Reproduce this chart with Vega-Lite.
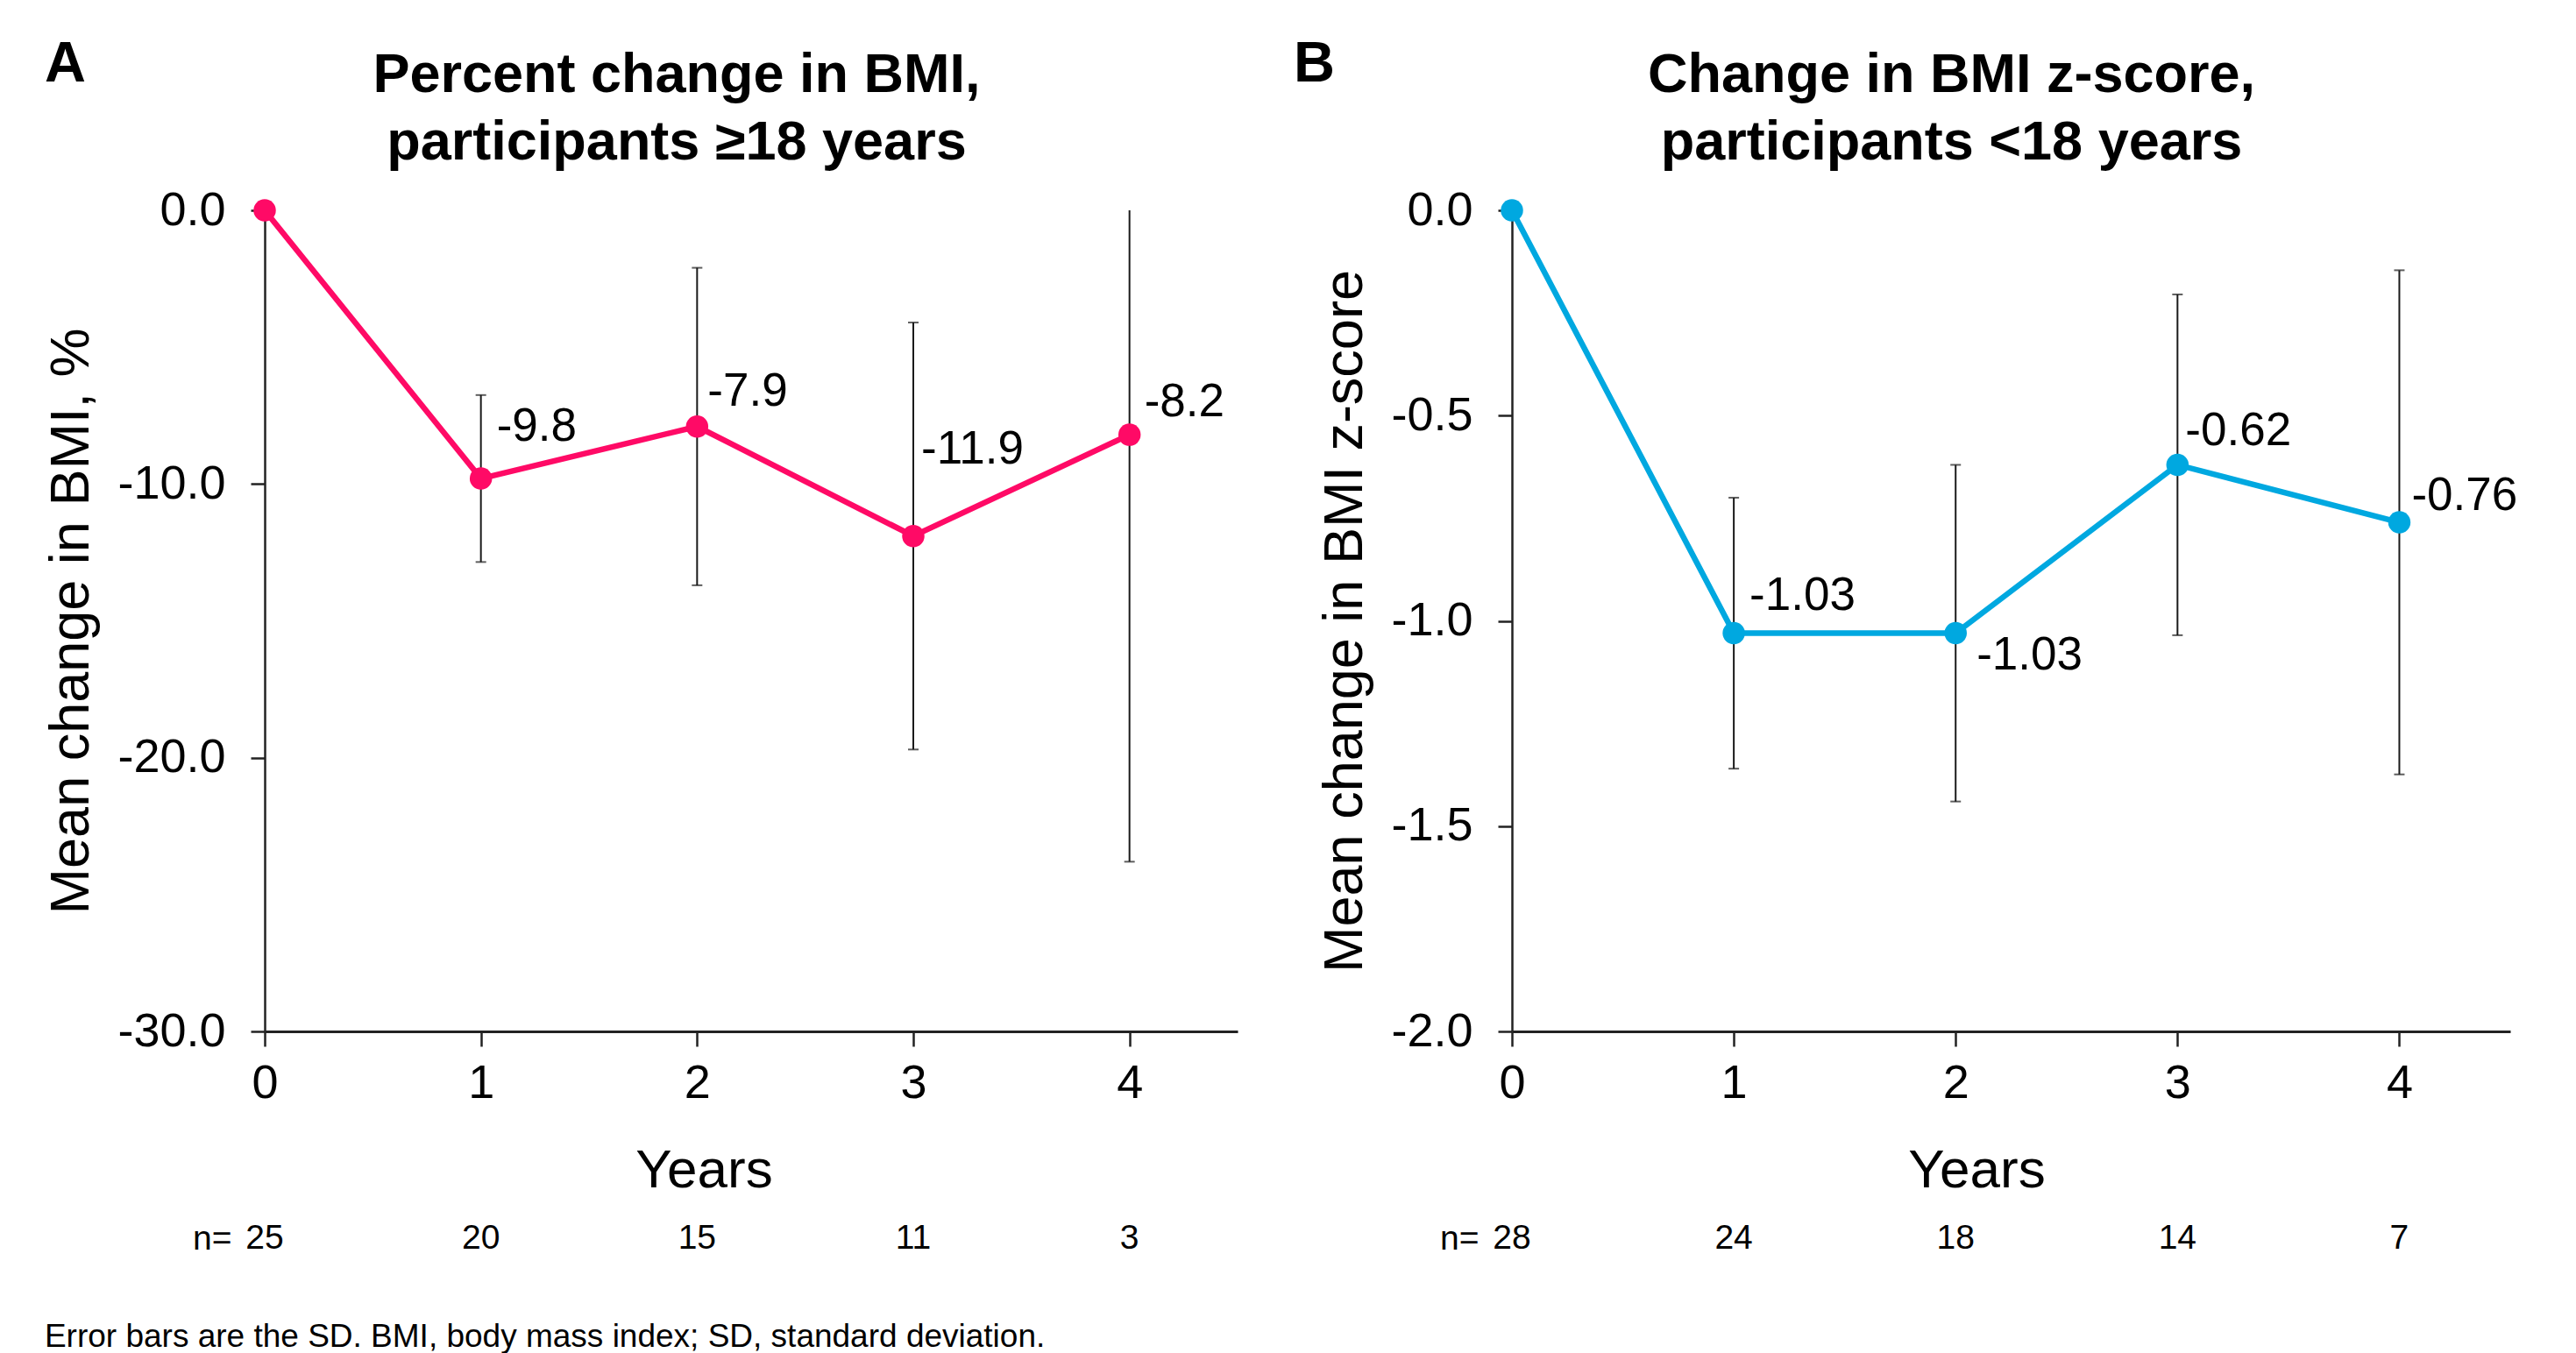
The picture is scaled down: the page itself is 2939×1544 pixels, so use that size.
{
  "$schema": "https://vega.github.io/schema/vega-lite/v6.json",
  "background": "white",
  "padding": {"left": 50, "top": 41, "right": 20, "bottom": 0},
  "config": {
    "locale": {"number": {"decimal": ".", "thousands": ",", "grouping": [3], "currency": ["$", ""], "minus": "-"}},
    "font": "Liberation Sans",
    "view": {"stroke": null},
    "axis": {"grid": false, "domainColor": "#222", "domainWidth": 2.5, "tickColor": "#222", "tickWidth": 2.5, "tickSize": 16, "labelColor": "#000", "titleColor": "#000", "labelFontSize": 54, "titleFontSize": 63, "titleFontWeight": "normal", "labelFont": "Liberation Sans", "titleFont": "Liberation Sans"},
    "title": {"color": "#000", "font": "Liberation Sans"},
    "text": {"font": "Liberation Sans", "color": "#000"}
  },
  "title": {"text": "Error bars are the SD. BMI, body mass index; SD, standard deviation.", "orient": "bottom", "anchor": "start", "frame": "bounds", "fontSize": 37, "fontWeight": "normal", "offset": 70},
  "spacing": 63,
  "hconcat": [
    {
      "title": {"text": "A", "anchor": "start", "frame": "bounds", "fontSize": 65, "fontWeight": "bold", "offset": -52},
      "spacing": 22,
      "vconcat": [
        {
          "width": 1110,
          "height": 937,
          "title": {"text": ["Percent change in BMI,", "participants ≥18 years"], "fontSize": 63, "fontWeight": "bold", "lineHeight": 77, "anchor": "middle", "frame": "group", "dx": -85, "offset": 18},
          "data": {"values": [
            {"year": 0, "mean": 0, "lo": 0, "hi": 0},
            {"year": 1, "mean": -9.8, "lo": -12.85, "hi": -6.75},
            {"year": 2, "mean": -7.9, "lo": -13.7, "hi": -2.1},
            {"year": 3, "mean": -11.9, "lo": -19.7, "hi": -4.1},
            {"year": 4, "mean": -8.2, "lo": -23.8, "hi": 7.4}
          ]},
          "encoding": {
            "x": {"field": "year", "type": "quantitative", "scale": {"domain": [0, 4.5]},
              "axis": {"values": [0, 1, 2, 3, 4], "format": "d", "labelFlush": false, "title": "Years", "titleFontSize": 62, "titleX": 501, "titleY": 177, "titleBaseline": "alphabetic", "labelBaseline": "alphabetic", "labelPadding": 58, "tickSize": 17, "domainWidth": 3}},
            "y": {"field": "mean", "type": "quantitative", "title": "Mean change in BMI, %", "scale": {"domain": [-30, 0], "nice": false, "zero": false},
              "axis": {"values": [0, -10, -20, -30], "format": ".1f", "labelFlush": false, "titlePadding": 20, "labelPadding": 29}}
          },
          "layer": [
            {"mark": {"type": "rule", "color": "#1a1a1a", "strokeWidth": 2, "clip": true},
              "encoding": {"y": {"field": "lo", "type": "quantitative", "title": "Mean change in BMI, %"}, "y2": {"field": "hi"}}},
            {"mark": {"type": "tick", "orient": "horizontal", "size": 12, "thickness": 2, "color": "#1a1a1a", "clip": true},
              "encoding": {"y": {"field": "lo", "type": "quantitative", "title": "Mean change in BMI, %"}}},
            {"mark": {"type": "tick", "orient": "horizontal", "size": 12, "thickness": 2, "color": "#1a1a1a", "clip": true},
              "encoding": {"y": {"field": "hi", "type": "quantitative", "title": "Mean change in BMI, %"}}},
            {"mark": {"type": "line", "color": "#FF0A66", "strokeWidth": 6.5}},
            {"mark": {"type": "circle", "size": 650, "opacity": 1, "color": "#FF0A66"}},
            {"transform": [{"filter": "datum.year == 1"}], "mark": {"type": "text", "align": "left", "baseline": "middle", "fontSize": 53, "dx": 18, "dy": -59}, "encoding": {"text": {"field": "mean", "type": "quantitative", "format": ".1f"}}},
            {"transform": [{"filter": "datum.year == 2"}], "mark": {"type": "text", "align": "left", "baseline": "middle", "fontSize": 53, "dx": 12, "dy": -40}, "encoding": {"text": {"field": "mean", "type": "quantitative", "format": ".1f"}}},
            {"transform": [{"filter": "datum.year == 3"}], "mark": {"type": "text", "align": "left", "baseline": "middle", "fontSize": 53, "dx": 9, "dy": -99}, "encoding": {"text": {"field": "mean", "type": "quantitative", "format": ".1f"}}},
            {"transform": [{"filter": "datum.year == 4"}], "mark": {"type": "text", "align": "left", "baseline": "middle", "fontSize": 53, "dx": 17, "dy": -37}, "encoding": {"text": {"field": "mean", "type": "quantitative", "format": ".1f"}}}
          ]
        },
        {
          "width": 1110,
          "height": 50,
          "data": {"values": [
            {"year": 0, "n": 25, "lab": "n="},
            {"year": 1, "n": 20, "lab": "n="},
            {"year": 2, "n": 15, "lab": "n="},
            {"year": 3, "n": 11, "lab": "n="},
            {"year": 4, "n": 3, "lab": "n="}
          ]},
          "mark": {"type": "text", "fontSize": 39, "baseline": "middle"},
          "encoding": {
            "x": {"field": "year", "type": "quantitative", "scale": {"domain": [0, 4.5]}, "axis": null},
            "y": {"field": "lab", "type": "nominal", "title": null, "axis": {"domain": false, "ticks": false, "labelFontSize": 39, "labelPadding": 38}},
            "text": {"field": "n", "type": "quantitative"}
          }
        }
      ]
    },
    {
      "title": {"text": "B", "anchor": "start", "frame": "bounds", "fontSize": 65, "fontWeight": "bold", "offset": -52, "dx": -28},
      "spacing": 22,
      "vconcat": [
        {
          "width": 1139,
          "height": 937,
          "title": {"text": ["Change in BMI z-score,", "participants <18 years"], "fontSize": 63, "fontWeight": "bold", "lineHeight": 77, "anchor": "middle", "frame": "group", "dx": -68, "offset": 18},
          "data": {"values": [
            {"year": 0, "mean": 0, "lo": 0, "hi": 0},
            {"year": 1, "mean": -1.03, "lo": -1.36, "hi": -0.7},
            {"year": 2, "mean": -1.03, "lo": -1.44, "hi": -0.62},
            {"year": 3, "mean": -0.62, "lo": -1.035, "hi": -0.205},
            {"year": 4, "mean": -0.76, "lo": -1.374, "hi": -0.146}
          ]},
          "encoding": {
            "x": {"field": "year", "type": "quantitative", "scale": {"domain": [0, 4.5]},
              "axis": {"values": [0, 1, 2, 3, 4], "format": "d", "labelFlush": false, "title": "Years", "titleFontSize": 62, "titleX": 530, "titleY": 177, "titleBaseline": "alphabetic", "labelBaseline": "alphabetic", "labelPadding": 58, "tickSize": 17, "domainWidth": 3}},
            "y": {"field": "mean", "type": "quantitative", "title": "Mean change in BMI z-score", "scale": {"domain": [-2, 0], "nice": false, "zero": false},
              "axis": {"values": [0, -0.5, -1, -1.5, -2], "format": ".1f", "labelFlush": false, "titlePadding": 20, "labelPadding": 29}}
          },
          "layer": [
            {"mark": {"type": "rule", "color": "#1a1a1a", "strokeWidth": 2, "clip": true},
              "encoding": {"y": {"field": "lo", "type": "quantitative", "title": "Mean change in BMI z-score"}, "y2": {"field": "hi"}}},
            {"mark": {"type": "tick", "orient": "horizontal", "size": 12, "thickness": 2, "color": "#1a1a1a", "clip": true},
              "encoding": {"y": {"field": "lo", "type": "quantitative", "title": "Mean change in BMI z-score"}}},
            {"mark": {"type": "tick", "orient": "horizontal", "size": 12, "thickness": 2, "color": "#1a1a1a", "clip": true},
              "encoding": {"y": {"field": "hi", "type": "quantitative", "title": "Mean change in BMI z-score"}}},
            {"mark": {"type": "line", "color": "#00A8E0", "strokeWidth": 6.5}},
            {"mark": {"type": "circle", "size": 650, "opacity": 1, "color": "#00A8E0"}},
            {"transform": [{"filter": "datum.year == 1"}], "mark": {"type": "text", "align": "left", "baseline": "middle", "fontSize": 53, "dx": 18, "dy": -43}, "encoding": {"text": {"field": "mean", "type": "quantitative", "format": ".2f"}}},
            {"transform": [{"filter": "datum.year == 2"}], "mark": {"type": "text", "align": "left", "baseline": "middle", "fontSize": 53, "dx": 24, "dy": 25}, "encoding": {"text": {"field": "mean", "type": "quantitative", "format": ".2f"}}},
            {"transform": [{"filter": "datum.year == 3"}], "mark": {"type": "text", "align": "left", "baseline": "middle", "fontSize": 53, "dx": 9, "dy": -38}, "encoding": {"text": {"field": "mean", "type": "quantitative", "format": ".2f"}}},
            {"transform": [{"filter": "datum.year == 4"}], "mark": {"type": "text", "align": "left", "baseline": "middle", "fontSize": 53, "dx": 14, "dy": -30}, "encoding": {"text": {"field": "mean", "type": "quantitative", "format": ".2f"}}}
          ]
        },
        {
          "width": 1139,
          "height": 50,
          "data": {"values": [
            {"year": 0, "n": 28, "lab": "n="},
            {"year": 1, "n": 24, "lab": "n="},
            {"year": 2, "n": 18, "lab": "n="},
            {"year": 3, "n": 14, "lab": "n="},
            {"year": 4, "n": 7, "lab": "n="}
          ]},
          "mark": {"type": "text", "fontSize": 39, "baseline": "middle"},
          "encoding": {
            "x": {"field": "year", "type": "quantitative", "scale": {"domain": [0, 4.5]}, "axis": null},
            "y": {"field": "lab", "type": "nominal", "title": null, "axis": {"domain": false, "ticks": false, "labelFontSize": 39, "labelPadding": 38}},
            "text": {"field": "n", "type": "quantitative"}
          }
        }
      ]
    }
  ]
}
